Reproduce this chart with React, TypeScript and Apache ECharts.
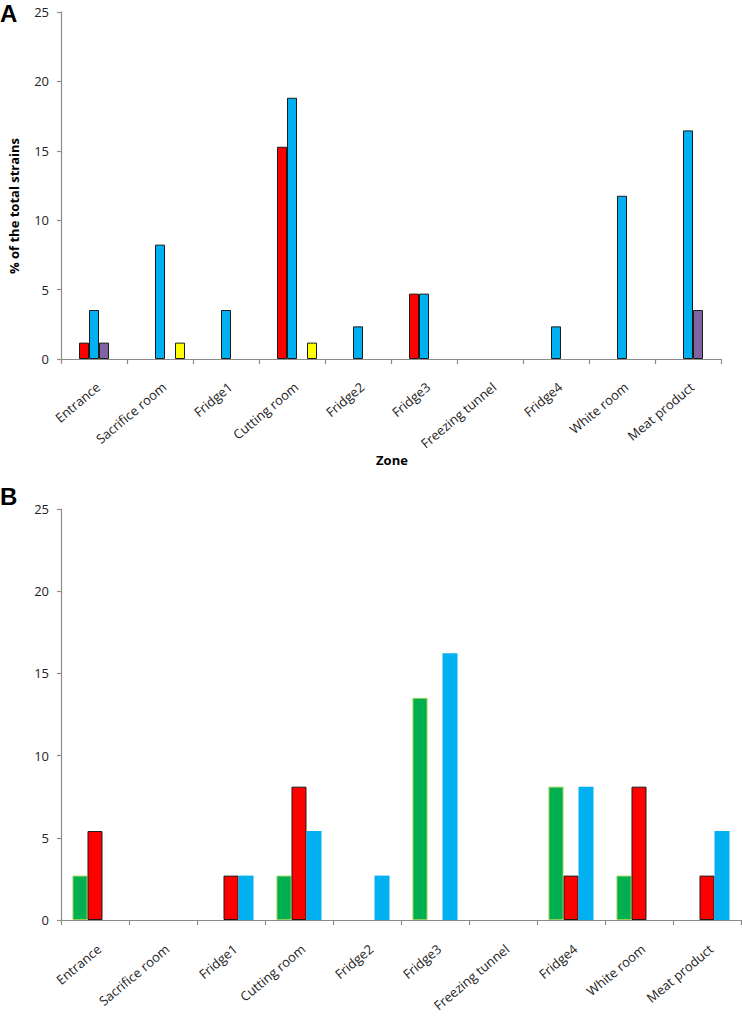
import React, { useEffect, useRef } from "react";
import * as echarts from "echarts";

const categories = [
  "Entrance",
  "Sacrifice room",
  "Fridge1",
  "Cutting room",
  "Fridge2",
  "Fridge3",
  "Freezing tunnel",
  "Fridge4",
  "White room",
  "Meat product",
];

const yTicks = [0, 5, 10, 15, 20, 25];

// Panel A (% of the total strains)
const aGroup1 = [0, 0, 0, 0, 0, 0, 0, 0, 0, 0];
const aGroup2 = [1.18, 0, 0, 15.29, 0, 4.71, 0, 0, 0, 0];
const aGroup3 = [3.53, 8.24, 3.53, 18.82, 2.35, 4.71, 0, 2.35, 11.76, 16.47];
const aGroup4 = [1.18, 0, 0, 0, 0, 0, 0, 0, 0, 3.53];
const aGroup5 = [0, 1.18, 0, 1.18, 0, 0, 0, 0, 0, 0];

// Panel B
const bGroup1 = [2.7, 0, 0, 2.7, 0, 13.51, 0, 8.11, 2.7, 0];
const bGroup2 = [5.41, 0, 2.7, 8.11, 0, 0, 0, 2.7, 8.11, 2.7];
const bGroup3 = [0, 0, 2.7, 5.41, 2.7, 16.22, 0, 8.11, 0, 5.41];

const FONT = "Open Sans";
const toBar = (arr: number[]) => arr.map((v) => (v === 0 ? "-" : v));

export default function App() {
  const ref = useRef<HTMLDivElement>(null);
  useEffect(() => {
    if (!ref.current) return;
    const chart = echarts.init(ref.current, null, { renderer: "svg" });
    const axisLine = { show: true, lineStyle: { color: "#8c8c8c", width: 1.2 } };
    const xAxisBase = (gridIndex: number, margin: number) => ({
      type: "category",
      gridIndex,
      data: categories,
      boundaryGap: true,
      axisLine,
      axisTick: { show: true, length: 5, lineStyle: { color: "#8c8c8c", width: 1.2 } },
      axisLabel: {
        rotate: 40,
        margin,
        interval: 0,
        align: "right",
        verticalAlign: "top",
        fontFamily: FONT,
        fontSize: 13,
        color: "#222",
      },
      splitLine: { show: false },
    });
    const yAxisBase = (gridIndex: number) => ({
      type: "value",
      gridIndex,
      min: yTicks[0],
      max: yTicks[yTicks.length - 1],
      interval: 5,
      axisLine,
      axisTick: { show: true, length: 4, lineStyle: { color: "#8c8c8c", width: 1.2 } },
      axisLabel: { fontFamily: FONT, fontSize: 13, color: "#222", margin: 12 },
      splitLine: { show: false },
    });
    const barA = (name: string, data: number[], color: string) => ({
      name,
      type: "bar",
      xAxisIndex: 0,
      yAxisIndex: 0,
      data: toBar(data),
      barWidth: 10,
      barGap: "0%",
      itemStyle: { color, borderColor: "#1a1a1a", borderWidth: 1 },
    });
    const barB = (name: string, data: number[], color: string, borderColor: string, borderWidth: number) => ({
      name,
      type: "bar",
      xAxisIndex: 1,
      yAxisIndex: 1,
      data: toBar(data),
      barWidth: 15,
      barGap: "0%",
      itemStyle: { color, borderColor, borderWidth },
    });
    chart.setOption({
      animation: false,
      backgroundColor: "#ffffff",
      grid: [
        { left: 61, top: 12, width: 660, height: 347 },
        { left: 61, top: 509, width: 680, height: 411 },
      ],
      xAxis: [xAxisBase(0, 21), xAxisBase(1, 22)],
      yAxis: [yAxisBase(0), yAxisBase(1)],
      series: [
        barA("A-1", aGroup1, "#00B050"),
        barA("A-2", aGroup2, "#FF0000"),
        barA("A-3", aGroup3, "#00B0F0"),
        barA("A-4", aGroup4, "#8064A2"),
        barA("A-5", aGroup5, "#FFFF00"),
        barB("B-1", bGroup1, "#00B050", "#92D050", 1),
        barB("B-2", bGroup2, "#FF0000", "#1a1a1a", 1),
        barB("B-3", bGroup3, "#00B0F0", "#00B0F0", 0),
      ],
      graphic: [
        {
          type: "text",
          left: 0,
          top: 1,
          style: { text: "A", font: "bold 24px 'Liberation Sans', Arial", fill: "#000" },
        },
        {
          type: "text",
          left: 0,
          top: 484,
          style: { text: "B", font: "bold 24px 'Liberation Sans', Arial", fill: "#000" },
        },
        {
          type: "text",
          x: 14,
          y: 206,
          rotation: Math.PI / 2,
          style: {
            text: "% of the total strains",
            font: `bold 13px '${FONT}'`,
            fill: "#000",
            align: "center",
            verticalAlign: "middle",
          },
        },
        {
          type: "text",
          x: 392,
          y: 460,
          style: {
            text: "Zone",
            font: `bold 13px '${FONT}'`,
            fill: "#000",
            align: "center",
            verticalAlign: "middle",
          },
        },
      ],
    });
    return () => chart.dispose();
  }, []);
  return (
    <div
      ref={ref}
      style={{ position: "fixed", left: 0, top: 0, width: 742, height: 1021, background: "#fff" }}
    />
  );
}
